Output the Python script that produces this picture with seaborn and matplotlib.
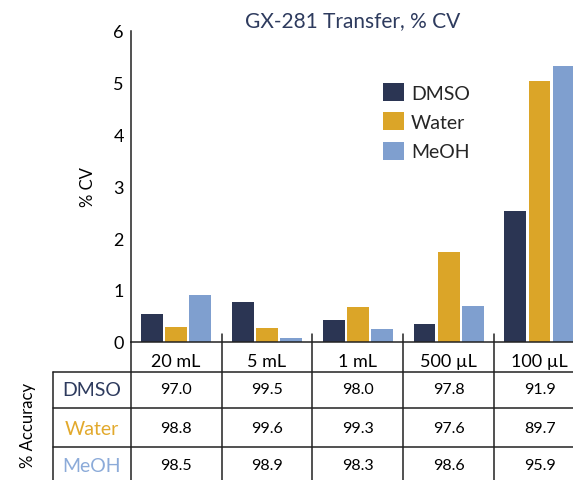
import matplotlib
matplotlib.use("Agg")
import matplotlib.pyplot as plt
import matplotlib.transforms as mtransforms
from matplotlib.lines import Line2D
import pandas as pd
import seaborn as sns

volumes = ["20 mL", "5 mL", "1 mL", "500 µL", "100 µL"]
solvents = ["DMSO", "Water", "MeOH"]
cv_dmso = [0.53, 0.77, 0.42, 0.34, 2.52]
cv_water = [0.28, 0.26, 0.67, 1.73, 5.03]
cv_meoh = [0.90, 0.07, 0.24, 0.69, 5.32]
acc_dmso = [97.0, 99.5, 98.0, 97.8, 91.9]
acc_water = [98.8, 99.6, 99.3, 97.6, 89.7]
acc_meoh = [98.5, 98.9, 98.3, 98.6, 95.9]

colors = {"DMSO": "#2b3553", "Water": "#dba528", "MeOH": "#7f9fcf"}
label_colors = {"DMSO": "#2e3b5e", "Water": "#e2a92c", "MeOH": "#8cabd9"}

df = pd.DataFrame({
    "volume": volumes * 3,
    "solvent": [s for s in solvents for _ in volumes],
    "cv": cv_dmso + cv_water + cv_meoh,
})
accuracy = {"DMSO": acc_dmso, "Water": acc_water, "MeOH": acc_meoh}

sns.set_theme(style="white")
plt.rcParams["font.family"] = ["Lato", "DejaVu Sans"]

W, H = 573, 481
fig = plt.figure(figsize=(W / 100, H / 100), dpi=100)

# axes in pixel terms: left 130.7, right ~585 (runs past the edge), top 32, bottom 342.7
x0, x1, y_top, y_bot = 130.7, 585.0, 32.0, 342.7
ax = fig.add_axes([x0 / W, 1 - y_bot / H, (x1 - x0) / W, (y_bot - y_top) / H])

sns.barplot(data=df, x="volume", y="cv", hue="solvent", order=volumes,
            hue_order=solvents, palette=colors, saturation=1, width=0.8,
            gap=0.1, linewidth=0, ax=ax)

ax.set_ylim(0, 6)
ax.set_xlim(-0.5, 4.5)
ax.set_yticks(range(7))
ax.set_xlabel("")
ax.set_ylabel("% CV", fontsize=12, color="black")
ax.yaxis.set_label_coords(-0.076, 0.5)
for s in ["top", "right"]:
    ax.spines[s].set_visible(False)
for s in ["left", "bottom"]:
    ax.spines[s].set_color("#222222")
    ax.spines[s].set_linewidth(1.1)
ax.tick_params(axis="y", direction="in", length=7.7, width=1.1, color="#222222",
               labelsize=13, pad=5, labelcolor="black")
ax.tick_params(axis="x", length=0, labelsize=13, pad=8, labelcolor="black")

leg = ax.legend(loc="upper left", bbox_to_anchor=(383 / W, 1 - 84 / H),
                bbox_transform=fig.transFigure, frameon=False, fontsize=14,
                handlelength=1.1, handleheight=1.05, handletextpad=0.35,
                labelspacing=0.55, borderpad=0, borderaxespad=0)

fig.text(353 / W, 1 - 21 / H, "GX-281 Transfer, % CV", ha="center", va="center",
         fontsize=15, color="#2e3b5e")

# table under the chart
line_kw = dict(color="#222222", linewidth=1.1, clip_on=False)
fy = lambda y: 1 - y / H
fx = lambda x: x / W
blend = mtransforms.blended_transform_factory(ax.transData, fig.transFigure)

fig.add_artist(Line2D([fx(x0), fx(x0)], [fy(y_bot), fy(H)], **line_kw))
fig.add_artist(Line2D([fx(52.7), fx(52.7)], [fy(372.7), fy(H)], **line_kw))
for yy in [372.7, 409.0, 448.3]:
    fig.add_artist(Line2D([fx(52.7), 1], [fy(yy), fy(yy)], **line_kw))
for i in range(len(volumes) - 1):
    fig.add_artist(Line2D([i + 0.5, i + 0.5], [fy(335), fy(H)],
                          transform=blend, **line_kw))

row_y = {"DMSO": 390.5, "Water": 429.5, "MeOH": 466.5}
for s in solvents:
    fig.text(fx(92), fy(row_y[s]), s, ha="center", va="center",
             fontsize=14, color=label_colors[s])
    for i, v in enumerate(accuracy[s]):
        fig.text(i, fy(row_y[s]), f"{v:.1f}", transform=blend, ha="center",
                 va="center", fontsize=11.5, color="black")

fig.text(fx(28), fy(425), "% Accuracy", rotation=90, ha="center", va="center",
         fontsize=12, color="black")

fig.savefig("out.png", dpi=100)
